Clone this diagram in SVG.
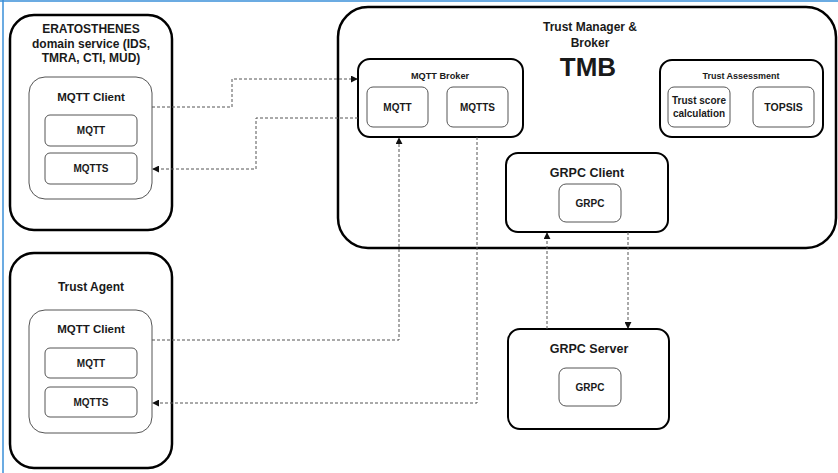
<svg xmlns="http://www.w3.org/2000/svg" width="838" height="473" viewBox="0 0 838 473">
  <style>
    text { font-family: "Liberation Sans", Arial, sans-serif; font-weight: bold; fill: #1a1a1a; text-anchor: middle; dominant-baseline: central; }
    .outer { fill: #fff; stroke: #000; stroke-width: 2.5; }
    .mid { fill: #fff; stroke: #000; stroke-width: 2; }
    .client { fill: #fff; stroke: #555; stroke-width: 1; }
    .cell { fill: #fff; stroke: #555; stroke-width: 1; }
    .link { fill: none; stroke: #555; stroke-width: 1; stroke-dasharray: 3 2; }
  </style>
  <defs>
    <marker id="arrow" viewBox="0 0 8 8" refX="7" refY="4" markerWidth="7" markerHeight="7" markerUnits="userSpaceOnUse" orient="auto">
      <path d="M0,0 L8,4 L0,8 Z" fill="#111"/>
    </marker>
  </defs>

  <rect width="838" height="473" fill="#fff"/>
  <!-- frame -->
  <line x1="0" y1="1" x2="838" y2="1" stroke="#3a8fd8" stroke-width="1.5"/>
  <line x1="3" y1="0" x2="3" y2="473" stroke="#3a8fd8" stroke-width="1.5"/>

  <g id="eratosthenes">
    <rect class="outer" x="10" y="15" width="162" height="215" rx="24"/>
    <text x="91" y="29" font-size="12">ERATOSTHENES</text>
    <text x="91" y="44" font-size="12">domain service (IDS,</text>
    <text x="91" y="58" font-size="12">TMRA, CTI, MUD)</text>
    <g id="era-client">
      <rect class="client" x="29" y="77" width="123" height="122" rx="16"/>
      <text x="91" y="97" font-size="11.5">MQTT Client</text>
      <rect class="cell" x="45" y="115" width="92" height="31" rx="5"/>
      <text x="91" y="130.5" font-size="10">MQTT</text>
      <rect class="cell" x="45" y="153" width="92" height="31" rx="5"/>
      <text x="91" y="168.5" font-size="10">MQTTS</text>
    </g>
  </g>

  <g id="trust-agent">
    <rect class="outer" x="10" y="253" width="162" height="215" rx="24"/>
    <text x="91" y="287" font-size="12">Trust Agent</text>
    <g id="agent-client">
      <rect class="client" x="29" y="310" width="123" height="123" rx="16"/>
      <text x="91" y="329" font-size="11.5">MQTT Client</text>
      <rect class="cell" x="45" y="348" width="92" height="30" rx="5"/>
      <text x="91" y="363" font-size="10">MQTT</text>
      <rect class="cell" x="45" y="387" width="92" height="30" rx="5"/>
      <text x="91" y="402" font-size="10">MQTTS</text>
    </g>
  </g>

  <g id="tmb">
    <rect class="outer" x="338" y="7" width="498" height="241" rx="30"/>
    <text x="590" y="27" font-size="12">Trust Manager &amp;</text>
    <text x="590" y="43" font-size="12">Broker</text>
    <text x="588" y="67" font-size="26">TMB</text>

    <g id="mqtt-broker">
      <rect class="mid" x="358" y="59" width="165" height="78" rx="12"/>
      <text x="440" y="76" font-size="9.2">MQTT Broker</text>
      <rect class="cell" x="367" y="87" width="61" height="40" rx="6"/>
      <text x="397.5" y="107" font-size="10">MQTT</text>
      <rect class="cell" x="447" y="87" width="61" height="40" rx="6"/>
      <text x="477.5" y="107" font-size="10">MQTTS</text>
    </g>

    <g id="trust-assessment">
      <rect class="mid" x="660" y="60" width="163" height="77" rx="12"/>
      <text x="741" y="76" font-size="9">Trust Assessment</text>
      <rect class="cell" x="668" y="87" width="62" height="40" rx="6"/>
      <text x="699" y="100" font-size="10">Trust score</text>
      <text x="699" y="113" font-size="10">calculation</text>
      <rect class="cell" x="753" y="87" width="61" height="40" rx="6"/>
      <text x="783.5" y="107" font-size="10.5">TOPSIS</text>
    </g>

    <g id="grpc-client">
      <rect class="mid" x="506" y="153" width="162" height="79" rx="12"/>
      <text x="587" y="173" font-size="12.5">GRPC Client</text>
      <rect class="cell" x="559" y="184" width="62" height="38" rx="7"/>
      <text x="590" y="203" font-size="10">GRPC</text>
    </g>
  </g>

  <g id="grpc-server">
    <rect class="mid" x="508" y="329" width="161" height="100" rx="12"/>
    <text x="589" y="349" font-size="12.5">GRPC Server</text>
    <rect class="cell" x="559" y="368" width="62" height="38" rx="7"/>
    <text x="590" y="387" font-size="10">GRPC</text>
  </g>

  <g id="connectors">
    <path class="link" d="M152,107 H232 V79 H357" marker-end="url(#arrow)"/>
    <path class="link" d="M358,118 H256 V169 H153" marker-end="url(#arrow)"/>
    <path class="link" d="M152,340 H399 V138" marker-end="url(#arrow)"/>
    <path class="link" d="M477,137 V403 H153" marker-end="url(#arrow)"/>
    <path class="link" d="M547,329 V233" marker-end="url(#arrow)"/>
    <path class="link" d="M628,232 V328" marker-end="url(#arrow)"/>
  </g>
</svg>
